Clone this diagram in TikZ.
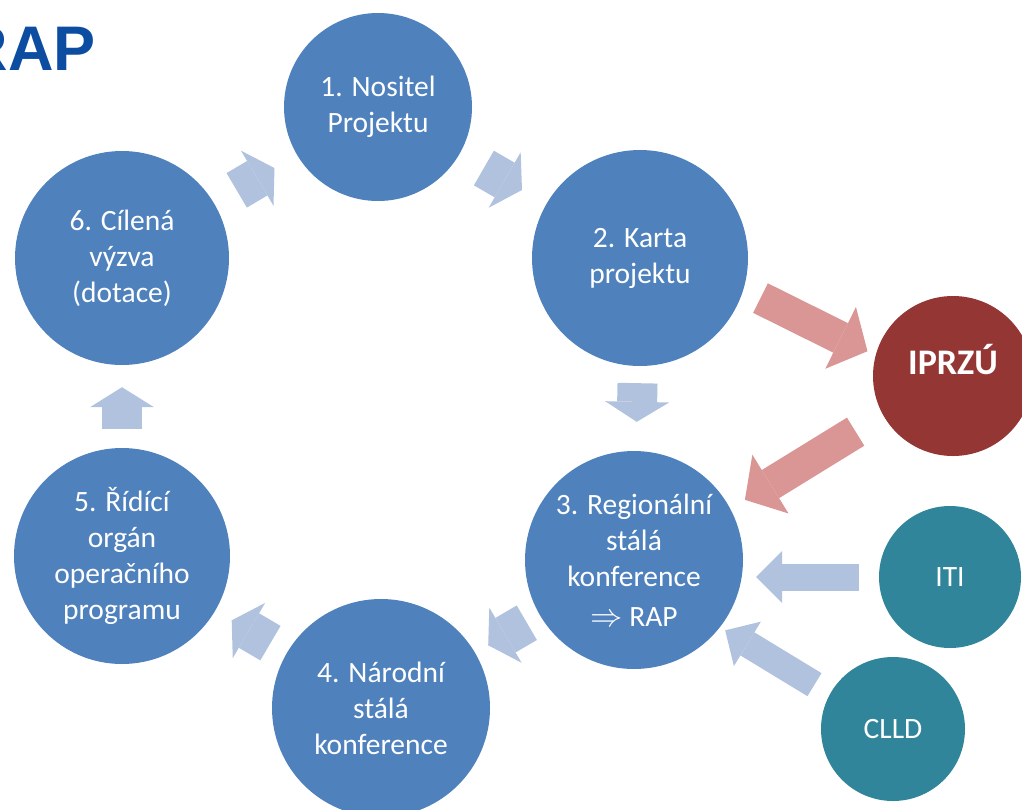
\documentclass[tikz,border=0pt]{standalone}
\usepackage{fontspec}
\usepackage{graphicx}
\setmainfont{Carlito}
\newfontfamily\titlefont{Liberation Sans}
\usetikzlibrary{arrows.meta}
\definecolor{stageblue}{RGB}{79,129,189}
\definecolor{arrowblue}{RGB}{177,194,222}
\definecolor{arrowpink}{RGB}{217,150,148}
\definecolor{iprzured}{RGB}{148,54,52}
\definecolor{sideteal}{RGB}{49,133,155}
\definecolor{titleblue}{RGB}{12,77,162}

\begin{document}
\begin{tikzpicture}[x=1pt, y=1pt,
    stagecircle/.style={circle, fill=stageblue, text=white, inner sep=0pt,
	align=center, font=\fontsize{29.5}{36}\selectfont},
    cyclearrow/.style={draw=arrowblue, line width=40pt,
	-{Triangle[length=20pt, width=64pt, line width=0pt]}},
    feedarrow/.style={draw=arrowpink, line width=33pt,
	-{Triangle[length=30pt, width=69pt, line width=0pt]}},
    sidearrow/.style={draw=arrowblue, line width=27pt,
	-{Triangle[length=26pt, width=52pt, line width=0pt]}}]
    \useasboundingbox (0, 0) rectangle (1022, -809);
    \clip (0, 0) rectangle (1022, -809);
    \node [anchor=base east, inner sep=0pt, text=titleblue,
	font=\titlefont\bfseries\fontsize{63}{63}\selectfont] (title) at (96, -70) {RAP};
    \node [stagecircle, minimum size=188pt] (c1) at (378, -107) {1. Nositel\\Projektu};
    \node [stagecircle, minimum size=216pt] (c2) at (640, -258) {2. Karta\\projektu};
    \node [stagecircle, minimum size=218pt] (c3) at (634, -560)
	{3. Regionální\\stálá\\konference\\[4pt]\scalebox{1.3}{$\Rightarrow$} RAP};
    \node [stagecircle, minimum size=218pt] (c4) at (381, -708) {4. Národní\\stálá\\konference};
    \node [stagecircle, minimum size=216pt] (c5) at (122, -556)
	{5. Řídící\\orgán\\operačního\\programu};
    \node [stagecircle, minimum size=214pt] (c6) at (122, -258) {6. Cílená\\výzva\\(dotace)};
    \node [stagecircle, fill=iprzured, minimum size=160pt,
	font=\fontsize{36}{40}\selectfont\bfseries] (iprzu) at (953, -376) {IPRZÚ\\[-6pt]};
    \node [stagecircle, fill=sideteal, minimum size=142pt] (iti) at (950, -577) {ITI};
    \node [stagecircle, fill=sideteal, minimum size=144pt] (clld) at (893, -729) {CLLD};

    \draw [cyclearrow, shorten <=26pt, shorten >=26pt] (c6) -- (c1);
    \draw [cyclearrow, shorten <=28pt, shorten >=28pt] (c1) -- (c2);
    \draw [cyclearrow, shorten <=17pt, shorten >=29pt] (c2) -- (c3);
    \draw [cyclearrow, shorten <=15pt, shorten >=15pt] (c3) -- (c4);
    \draw [cyclearrow, shorten <=19pt, shorten >=19pt] (c4) -- (c5);
    \draw [cyclearrow, shorten <=19pt, shorten >=22pt] (c5) -- (c6);

    \draw [feedarrow, shorten <=19pt, shorten >=9pt] (c2.-17) -- (iprzu.165);
    \draw [feedarrow, shorten <=32pt, shorten >=17pt] (iprzu.209) -- (c3.28);
    \draw [sidearrow, shorten <=20pt, shorten >=13pt] (iti.west) -- (c3.east |- iti.west);
    \draw [sidearrow, shorten <=18pt, shorten >=6pt] (clld.151) -- (c3.-38);
\end{tikzpicture}
\end{document}
